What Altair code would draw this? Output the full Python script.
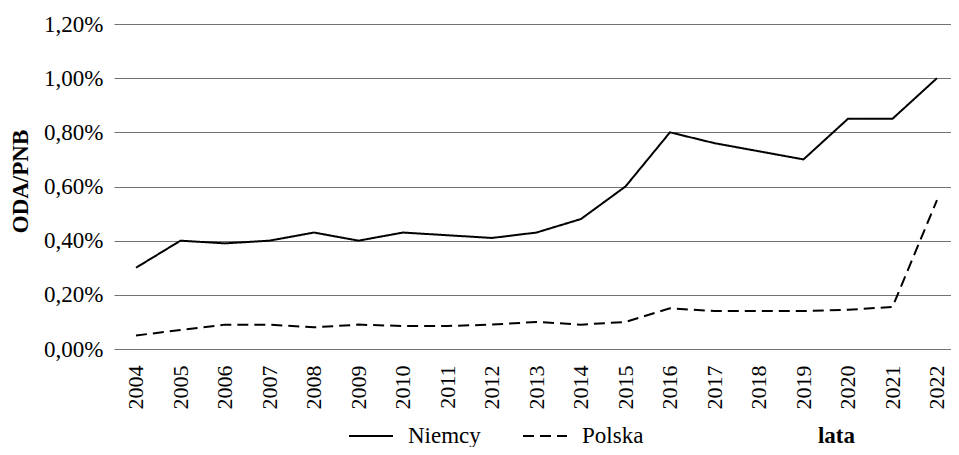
import altair as alt
import pandas as pd

years = list(range(2004, 2023))
niemcy = [0.30, 0.40, 0.39, 0.40, 0.43, 0.40, 0.43, 0.42, 0.41, 0.43, 0.48, 0.60, 0.80, 0.76, 0.73, 0.70, 0.85, 0.85, 1.00]
polska = [0.05, 0.07, 0.09, 0.09, 0.08, 0.09, 0.085, 0.085, 0.09, 0.10, 0.09, 0.10, 0.15, 0.14, 0.14, 0.14, 0.145, 0.155, 0.55]
series_names = ["Niemcy", "Polska"]
y_ticks = [0.0, 0.2, 0.4, 0.6, 0.8, 1.0, 1.2]

rows = []
for name, vals in zip(series_names, [niemcy, polska]):
    for yr, v in zip(years, vals):
        rows.append({"rok": yr, "wartosc": v, "seria": name})
df = pd.DataFrame(rows)

FONT = "Liberation Serif"

chart = alt.Chart(df).mark_line(strokeWidth=2, color="black").encode(
    x=alt.X(
        "rok:Q",
        scale=alt.Scale(domain=[2003.506, 2022.315], nice=False, zero=False),
        axis=alt.Axis(
            values=years, format="d", labelAngle=270, labelAlign="right", labelBaseline="middle",
            labelPadding=16, ticks=False, domain=False, grid=False,
            labelFont=FONT, labelFontSize=22, labelColor="black",
            title="lata", titleFont=FONT, titleFontSize=23, titleFontWeight="bold", titleColor="black",
            titleX=722, titleY=93, titleAlign="center", titleBaseline="alphabetic",
        ),
    ),
    y=alt.Y(
        "wartosc:Q",
        scale=alt.Scale(domain=[0, 1.2], nice=False),
        axis=alt.Axis(
            values=y_ticks, labelExpr="replace(format(datum.value, '.2f'), '.', ',') + '%'",
            ticks=False, domain=False, grid=True, gridColor="#737373", gridWidth=1,
            labelPadding=11, labelFont=FONT, labelFontSize=23, labelColor="black",
            title="ODA/PNB", titleFont=FONT, titleFontSize=23, titleFontWeight="bold", titleColor="black",
            titleX=-94, titleY=157, titleAngle=270, titleAlign="center", titleBaseline="middle",
        ),
    ),
    strokeDash=alt.StrokeDash(
        "seria:N",
        scale=alt.Scale(domain=series_names, range=[[1, 0], [11, 6]]),
        legend=alt.Legend(
            orient="none", legendX=234, legendY=389, direction="horizontal", title=None,
            symbolType="stroke", symbolSize=1936, symbolStrokeWidth=2, symbolStrokeColor="black",
            labelFont=FONT, labelFontSize=23, labelColor="black", labelOffset=14, columnPadding=38,
        ),
    ),
).properties(
    width=837,
    height=325,
    autosize=alt.AutoSizeParams(type="none"),
    padding={"left": 106, "top": 16, "right": 0, "bottom": 98},
    background="white",
).configure_view(stroke=None)

chart.save("out.html", embed_options={"renderer": "svg", "actions": False})
